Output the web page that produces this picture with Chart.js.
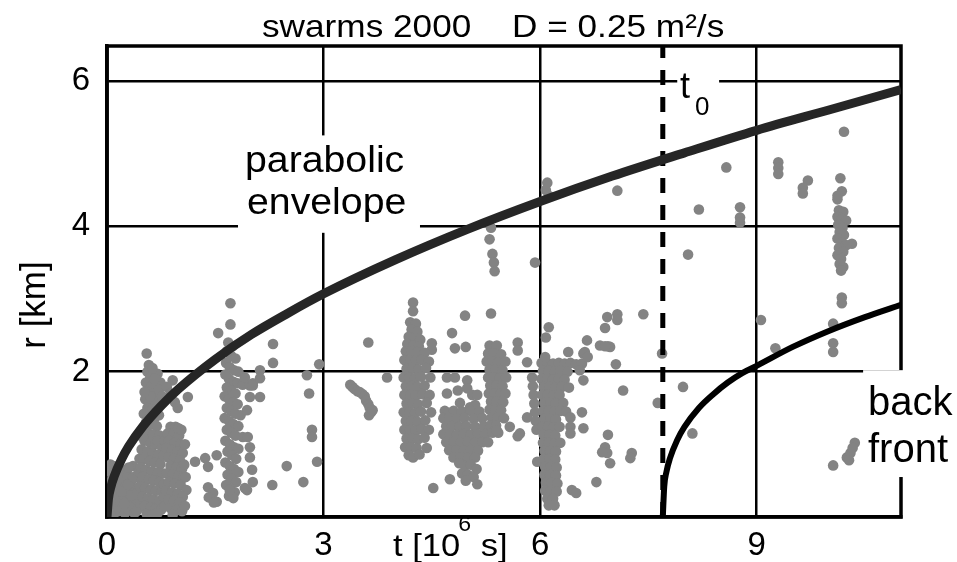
<!DOCTYPE html>
<html><head><meta charset="utf-8">
<script src="https://cdn.jsdelivr.net/npm/chart.js@4"></script>
<style>html,body{margin:0;padding:0;background:#fff;}</style>
</head><body>
<canvas id="c" width="957" height="562"></canvas>
<script>
// ---- axis ticks ----
const xTicks = [0, 3, 6, 9];
const yTicks = [2, 4, 6];
const xMax = 11, yMax = 6.48;
const t0 = 7.7;

// ---- curves ----
const envelopeT = [0,0.02,0.05,0.1,0.2,0.3,0.5,0.75,1,1.5,2,2.5,3,4,5,6,7,8,9,10,11];
const envelopeR = [0,0.25,0.40,0.56,0.79,0.97,1.25,1.53,1.77,2.17,2.51,2.80,3.07,3.54,3.96,4.34,4.69,5.01,5.32,5.60,5.88];
const backFrontT = [7.70,7.72,7.75,7.80,7.90,8.00,8.20,8.40,8.60,8.80,9.00,9.50,10.00,10.50,11.00];
const backFrontR = [0,0.42,0.62,0.81,1.06,1.24,1.50,1.69,1.85,1.98,2.08,2.34,2.56,2.75,2.92];

// ---- seismic events [t, r] ----
const swarmA = [[0.02,0.05],[0.03,0.18],[0.02,0.32],[0.03,0.48],[0.04,0.62],[0.05,0.72],[0.06,0.10],[0.08,0.25],[0.07,0.40],[0.10,0.55],[0.11,0.06],[0.12,0.18],[0.14,0.33],[0.13,0.45],[0.16,0.08],[0.18,0.22],[0.17,0.40],[0.20,0.52],[0.21,0.12],[0.23,0.30],[0.22,0.64],[0.25,0.05],[0.27,0.20],[0.26,0.42],[0.28,0.58],[0.30,0.10],[0.31,0.32],[0.33,0.48],[0.35,0.15],[0.36,0.70],[0.38,0.05],[0.39,0.38],[0.40,0.25],[0.42,0.55],[0.44,0.12],[0.45,0.42],[0.30,0.68],[0.15,0.60],[0.09,0.70],[0.05,0.02],
[0.12,0.62],[0.20,0.35],[0.24,0.18],[0.29,0.45],[0.34,0.30],[0.37,0.55],[0.41,0.08],[0.43,0.35],[0.47,0.18],[0.48,0.50],[0.45,0.80],[0.44,0.62]];
const swarmB = [[0.55,2.25],[0.58,2.09],[0.56,2.00],[0.60,1.92],[0.54,1.85],[0.62,1.80],[0.57,1.72],[0.65,1.70],[0.53,1.62],[0.60,1.60],[0.68,1.58],[0.56,1.50],[0.63,1.48],[0.51,1.42],[0.59,1.38],[0.66,1.36],[0.72,1.40],[0.54,1.30],[0.61,1.27],[0.69,1.25],[0.50,1.18],[0.57,1.15],[0.64,1.13],[0.73,1.12],[0.52,1.05],[0.60,1.02],[0.67,1.00],[0.75,0.98],[0.48,0.93],[0.56,0.90],[0.63,0.88],[0.71,0.86],[0.51,0.80],[0.59,0.77],[0.66,0.75],[0.74,0.73],[0.47,0.68],[0.54,0.65],[0.62,0.63],[0.70,0.61],[0.77,0.60],[0.50,0.55],[0.58,0.52],[0.65,0.50],[0.73,0.48],[0.46,0.42],[0.53,0.40],[0.61,0.38],[0.68,0.36],[0.76,0.35],[0.49,0.28],[0.57,0.26],[0.64,0.24],[0.72,0.22],[0.52,0.15],[0.60,0.13],[0.67,0.11],[0.75,0.10],[0.55,0.04],[0.63,0.03],[0.70,0.05],[0.70,1.97],[0.74,1.85],[0.72,1.75],[0.76,1.66],
[0.60,1.66],[0.66,1.90],[0.63,2.05],[0.52,1.72],[0.49,1.10],[0.68,1.45],[0.70,1.05],[0.79,0.45],[0.80,0.15],[0.78,0.85],[0.80,1.05],[0.79,0.28]];
const swarmC = [[0.88,1.24],[0.95,1.24],[0.84,1.15],[0.92,1.14],[1.00,1.12],[0.86,1.05],[0.94,1.02],[1.02,1.00],[0.82,0.95],[0.90,0.92],[0.98,0.90],[1.05,0.88],[0.85,0.82],[0.93,0.80],[1.01,0.78],[0.88,0.70],[0.96,0.68],[1.04,0.66],[0.83,0.60],[0.91,0.58],[0.99,0.56],[1.06,0.54],[0.86,0.48],[0.94,0.46],[1.02,0.44],[1.10,0.37],[0.82,0.36],[0.90,0.34],[0.98,0.32],[1.05,0.28],[0.85,0.24],[0.93,0.22],[1.01,0.20],[0.88,0.12],[0.96,0.10],[1.04,0.08],[0.91,0.03],[0.91,1.88],[0.83,1.79],[0.88,1.70],[0.98,1.50],[0.94,1.58],[1.12,1.65],
[1.08,0.15],[1.09,0.55],[1.07,0.72],[1.08,1.00],[0.99,1.22],[1.03,1.20]];
const swarmD = [[1.71,2.94],[1.71,2.65],[1.54,2.53],[1.68,2.40],[1.74,2.35],[1.66,2.28],[1.72,2.22],[1.78,2.18],[1.65,2.12],[1.70,2.06],[1.76,2.02],[1.82,2.00],[1.64,1.96],[1.69,1.90],[1.75,1.86],[1.81,1.84],[1.88,1.82],[1.66,1.78],[1.72,1.74],[1.78,1.70],[1.63,1.66],[1.69,1.62],[1.75,1.58],[1.81,1.55],[1.66,1.50],[1.72,1.46],[1.78,1.42],[1.85,1.40],[1.63,1.36],[1.69,1.32],[1.75,1.28],[1.82,1.25],[1.66,1.20],[1.72,1.16],[1.78,1.12],[1.88,1.10],[1.64,1.05],[1.70,1.00],[1.76,0.96],[1.82,0.94],[1.67,0.90],[1.73,0.85],[1.79,0.80],[1.64,0.75],[1.70,0.70],[1.76,0.66],[1.82,0.62],[1.67,0.58],[1.73,0.53],[1.79,0.48],[1.65,0.44],[1.71,0.39],[1.77,0.34],[1.69,0.29],[1.75,0.26],[1.91,1.92],[1.98,1.81],[2.02,1.84],[2.12,2.02],[2.12,1.91],[2.02,1.81],[2.12,1.65],[1.98,1.65],[1.94,1.47],[1.95,1.10],[1.98,0.96],[1.98,0.82],[2.01,0.65],[2.02,0.48],[1.94,0.37],[2.30,2.38],[2.30,2.12]];
const scatterEarly = [[1.22,0.76],[1.36,0.81],[1.52,0.85],[1.40,0.69],[1.40,0.41],[1.47,0.33],[1.52,0.21],[1.41,0.27],[1.48,0.20],[1.70,0.37],[1.91,0.40],[2.29,0.44],[2.72,0.48],[2.49,0.70],[2.84,1.20],[2.84,1.10],[2.80,1.70],[2.77,1.95],[2.94,2.10],[2.91,0.76]];
const swarmE = [[3.37,1.82],[3.40,1.79],[3.43,1.76],[3.47,1.73],[3.50,1.72],[3.54,1.69],[3.57,1.66],[3.59,1.60],[3.62,1.55],[3.64,1.50],[3.66,1.44],[3.63,1.40],[3.68,1.47],[3.88,1.92],[3.62,2.40]];
const swarmF = [[4.24,2.95],[4.24,2.83],[4.20,2.68],[4.28,2.66],[4.22,2.58],[4.30,2.55],[4.18,2.48],[4.26,2.46],[4.34,2.44],[4.16,2.38],[4.24,2.36],[4.32,2.35],[4.50,2.39],[4.50,2.30],
[4.14,2.28],[4.22,2.28],[4.30,2.27],[4.40,2.26],
[4.12,2.16],[4.20,2.16],[4.28,2.15],[4.36,2.16],[4.46,2.14],
[4.15,2.04],[4.23,2.04],[4.31,2.03],[4.42,2.05],
[4.11,1.92],[4.19,1.92],[4.27,1.91],[4.35,1.93],[4.48,1.92],
[4.14,1.80],[4.22,1.80],[4.30,1.79],[4.40,1.81],
[4.12,1.68],[4.20,1.68],[4.28,1.67],[4.37,1.69],[4.47,1.68],
[4.15,1.56],[4.23,1.56],[4.31,1.55],[4.43,1.57],
[4.11,1.44],[4.19,1.44],[4.27,1.43],[4.35,1.45],[4.49,1.44],
[4.14,1.32],[4.22,1.32],[4.30,1.31],[4.41,1.33],
[4.12,1.20],[4.20,1.20],[4.28,1.19],[4.36,1.21],[4.46,1.20],
[4.15,1.08],[4.23,1.08],[4.31,1.07],[4.40,1.09],
[4.13,0.96],[4.21,0.96],[4.29,0.95],[4.43,0.95],
[4.18,0.85],[4.24,0.82],[4.33,0.86]];
const swarmG = [[4.71,1.92],[4.82,1.92],[4.99,1.88],[4.71,1.70],[4.86,1.74],[4.99,1.77],[5.06,1.68],[5.13,1.68],[4.89,1.57],[5.03,1.51],[5.10,1.54],
[4.68,1.46],[4.80,1.46],[4.92,1.45],[5.04,1.46],[5.16,1.45],
[4.66,1.36],[4.74,1.36],[4.84,1.35],[4.95,1.36],[5.08,1.35],[5.20,1.36],
[4.70,1.25],[4.78,1.25],[4.88,1.24],[4.98,1.25],[5.10,1.24],[5.22,1.25],
[4.66,1.14],[4.75,1.14],[4.85,1.13],[4.94,1.14],[5.04,1.13],[5.14,1.14],[5.24,1.14],
[4.70,1.03],[4.80,1.03],[4.90,1.02],[5.00,1.03],[5.10,1.02],[5.20,1.03],
[4.74,0.92],[4.84,0.92],[4.94,0.91],[5.04,0.92],[5.14,0.91],
[4.80,0.82],[4.90,0.82],[5.00,0.81],[5.10,0.82],
[4.88,0.74],[4.96,0.70],[5.04,0.72],[5.12,0.66],[4.92,0.60],[5.00,0.58],[5.08,0.55],[4.97,0.50],[4.75,0.52],[4.52,0.40],[5.13,0.45],
[4.96,2.77],[5.32,2.80],[4.78,2.53],[4.82,2.32],[4.97,2.34]];
const swarmH = [[5.30,2.36],[5.40,2.36],[5.28,2.25],[5.36,2.25],[5.46,2.24],[5.26,2.14],[5.34,2.14],[5.42,2.13],[5.52,2.14],[5.30,2.03],[5.38,2.03],[5.48,2.02],[5.28,1.92],[5.36,1.92],[5.44,1.91],[5.53,1.92],[5.31,1.81],[5.39,1.81],[5.48,1.80],[5.29,1.70],[5.37,1.70],[5.45,1.69],[5.52,1.70],[5.32,1.59],[5.40,1.59],[5.49,1.58],[5.30,1.48],[5.38,1.48],[5.46,1.47],[5.33,1.37],[5.41,1.37],[5.50,1.36],[5.31,1.26],[5.39,1.26],[5.34,1.16],[5.42,1.16],
[5.69,2.40],[5.69,2.29],[5.69,1.11],[5.58,1.24],[5.40,1.19],[5.28,1.03],
[5.89,1.92],[5.90,1.80],[5.91,1.68],[5.92,1.56],[5.93,1.44],[5.94,1.32],[5.95,1.20],[5.82,1.37],[5.72,1.15],[5.82,2.13],[5.96,0.76]];
const swarmI = [[6.02,2.12],[6.10,2.12],[6.18,2.11],[6.26,2.12],[6.34,2.11],[6.42,2.12],[6.50,2.10],
[6.04,2.01],[6.12,2.01],[6.20,2.00],[6.28,2.01],[6.38,2.00],
[6.02,1.90],[6.10,1.90],[6.18,1.89],[6.26,1.90],[6.34,1.89],
[6.05,1.79],[6.13,1.79],[6.21,1.78],[6.30,1.79],[6.40,1.78],
[6.03,1.68],[6.11,1.68],[6.19,1.67],[6.27,1.68],
[6.06,1.57],[6.14,1.57],[6.22,1.56],[6.32,1.57],
[6.04,1.46],[6.12,1.46],[6.20,1.45],[6.28,1.46],[6.36,1.45],
[6.06,1.35],[6.14,1.35],[6.22,1.34],
[6.03,1.24],[6.11,1.24],[6.19,1.23],[6.27,1.24],
[6.05,1.13],[6.13,1.13],[6.21,1.12],
[6.04,1.02],[6.12,1.02],[6.20,1.01],[6.28,1.02],
[6.06,0.91],[6.14,0.91],[6.22,0.90],
[6.05,0.80],[6.13,0.80],[6.21,0.79],
[6.07,0.69],[6.15,0.69],[6.23,0.68],
[6.06,0.58],[6.14,0.58],[6.22,0.57],
[6.08,0.47],[6.16,0.47],[6.24,0.46],
[6.07,0.36],[6.15,0.36],[6.23,0.35],
[6.10,0.25],[6.18,0.25],[6.12,0.16],[6.20,0.16],
[6.12,2.61],[6.08,2.47],[6.07,2.20]];
const scatterLate = [[6.39,2.27],[6.42,1.37],[6.42,1.24],[6.42,1.15],[6.58,1.44],[6.60,1.22],[6.60,1.88],[6.60,2.25],[6.58,2.11],[6.55,2.02],[6.65,2.43],[6.62,2.27],[6.66,2.20],[6.83,2.36],[6.94,2.35],[6.93,2.75],[7.07,2.79],[7.07,2.71],[7.43,2.79],[7.05,2.10],[7.15,1.74],[6.94,1.13],[6.90,0.96],[6.93,0.88],[6.97,0.74],[6.86,0.89],[7.27,0.88],[7.25,0.81],[6.78,0.48],[6.44,0.37],[6.50,0.33],[7.69,2.25],[7.63,1.57],[7.98,1.79],[8.11,1.15],[6.90,2.60],[6.97,2.34],[6.90,2.35],
[5.32,3.98],[5.30,3.82],[5.34,3.62],[5.36,3.50],[5.37,3.38],[5.93,3.50],[6.10,4.60],[6.08,4.50],[6.12,4.42],
[7.07,4.49],[8.20,4.23],[8.58,4.81],[8.77,4.26],[8.77,4.12],[8.77,4.05],[9.30,4.88],[9.30,4.80],[9.30,4.72],[9.71,4.63],[9.64,4.53],[9.64,4.45],[10.16,4.66],[10.18,4.48],[10.12,4.42],[10.12,4.37],[10.21,5.30],[8.05,3.61],[9.06,2.71],[9.26,2.32],[10.32,3.76],[10.18,3.02],[10.18,2.94],[10.06,2.66],[10.06,2.39],[10.06,2.27],
[10.06,0.71],[10.25,0.82],[10.30,0.88],[10.36,1.02],[10.33,0.95],[10.28,0.78]];
const swarmJ = [[10.14,4.22],[10.20,4.20],[10.12,4.13],[10.18,4.10],[10.24,4.08],[10.13,4.02],[10.19,3.98],[10.15,3.92],[10.21,3.88],[10.12,3.83],[10.18,3.78],[10.24,3.74],[10.14,3.70],[10.20,3.65],[10.12,3.60],[10.17,3.55],[10.15,3.48],[10.20,3.44],[10.17,3.39]];

const FONT = '"Liberation Sans", Arial, Helvetica, sans-serif';
const events = [].concat(swarmA, swarmB, swarmC, swarmD, scatterEarly, swarmE, swarmF, swarmG, swarmH, swarmI, scatterLate, swarmJ)
  .map(p => ({x: p[0], y: p[1]}));
const pts = (T, R) => T.map((t, i) => ({x: t, y: R[i]}));

function txt(ctx, s, x, y, size, sx, align) {
  ctx.save();
  ctx.font = size + 'px ' + FONT;
  ctx.fillStyle = '#000';
  ctx.textAlign = align || 'left';
  ctx.textBaseline = 'alphabetic';
  ctx.translate(x, y);
  ctx.scale(sx || 1, 1);
  ctx.fillText(s, 0, 0);
  const w = ctx.measureText(s).width * (sx || 1);
  ctx.restore();
  return w;
}

const annot = {
  id: 'annot',
  beforeDatasetsDraw(chart) {
    const {ctx, chartArea: a, scales: {x, y}} = chart;
    ctx.save();
    ctx.strokeStyle = '#000'; ctx.lineWidth = 3.5;
    ctx.strokeRect(a.left, a.top, a.right - a.left, a.bottom - a.top);
    ctx.fillStyle = '#fff';
    const box = (t1, t2, r1, r2) => {
      const X1 = x.getPixelForValue(t1), X2 = t2 === null ? chart.width : x.getPixelForValue(t2);
      const Y1 = y.getPixelForValue(r1), Y2 = y.getPixelForValue(r2);
      ctx.fillRect(X1, Y1, X2 - X1, Y2 - Y1);
    };
    box(1.815, 4.336, 5.25, 3.91);
    box(7.90, 8.48, 6.26, 5.71);
    box(10.475, null, 2.02, 0.55);
    ctx.restore();
  },
  afterDraw(chart) {
    const ctx = chart.ctx;
    txt(ctx, 'swarms 2000', 262, 37, 32, 1.1);
    txt(ctx, 'D = 0.25 m²/s', 512, 37, 32, 1.1);
    txt(ctx, 'parabolic', 245, 172, 36, 1.09);
    txt(ctx, 'envelope', 247, 214, 36, 1.09);
    txt(ctx, 't', 680, 98, 36);
    txt(ctx, '0', 695, 115, 26);
    txt(ctx, 'back', 868, 415, 40);
    txt(ctx, 'front', 868, 462, 40);
    let px = 393;
    px += txt(ctx, 't [10', px, 556, 32, 1.08) - 2;
    px += txt(ctx, '6', px, 531, 22, 1.05);
    txt(ctx, ' s]', px, 556, 32, 1.08);
    ctx.save();
    ctx.translate(45, 305);
    ctx.rotate(-Math.PI / 2);
    ctx.font = '35px ' + FONT;
    ctx.fillStyle = '#000';
    ctx.textAlign = 'center';
    ctx.fillText('r [km]', 0, 0);
    ctx.restore();
  }
};

new Chart(document.getElementById('c'), {
  type: 'scatter',
  data: {
    datasets: [
      {data: pts(envelopeT, envelopeR), showLine: true, borderColor: '#262626', borderWidth: 9, pointRadius: 0, cubicInterpolationMode: 'monotone', order: 0},
      {data: pts(backFrontT, backFrontR), showLine: true, borderColor: '#000', borderWidth: 6, pointRadius: 0, cubicInterpolationMode: 'monotone', order: 0},
      {data: [{x: t0, y: 0}, {x: t0, y: yMax}], showLine: true, borderColor: '#000', borderWidth: 5, borderDash: [15, 12], pointRadius: 0, order: 0},
      {data: events, showLine: false, pointRadius: 5.3, pointBackgroundColor: '#838383', pointBorderWidth: 0, order: 1}
    ]
  },
  options: {
    responsive: false, animation: false, devicePixelRatio: 1,
    layout: {padding: {left: 0, right: 56, top: 46, bottom: 0}},
    plugins: {legend: {display: false}, tooltip: {enabled: false}, title: {display: false}},
    scales: {
      x: {type: 'linear', min: 0, max: xMax,
        afterBuildTicks: s => { s.ticks = xTicks.map(v => ({value: v})); },
        afterFit: s => { s.height = 45; },
        grid: {color: '#000', lineWidth: 2.5, drawTicks: false},
        border: {display: true, color: '#000', width: 3.5},
        ticks: {color: '#000', font: {family: FONT, size: 33}, padding: 9, maxRotation: 0, autoSkip: false}},
      y: {type: 'linear', min: 0, max: yMax,
        afterBuildTicks: s => { s.ticks = yTicks.map(v => ({value: v})); },
        afterFit: s => { s.width = 107; },
        grid: {color: '#000', lineWidth: 2.5, drawTicks: false},
        border: {display: true, color: '#000', width: 3.5},
        ticks: {color: '#000', font: {family: FONT, size: 33}, padding: 17, autoSkip: false}}
    }
  },
  plugins: [annot]
});
</script>
</body></html>
